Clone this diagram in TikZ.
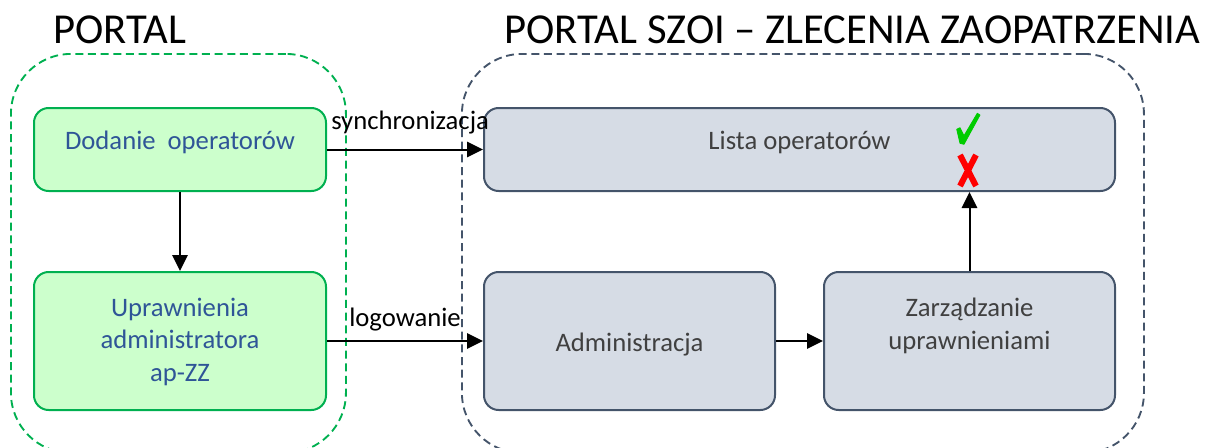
\documentclass[tikz,border=0pt]{standalone}
\usepackage{fontspec}
\setmainfont{Carlito}
\usetikzlibrary{arrows.meta}
\definecolor{grn}{HTML}{00B050}
\definecolor{grnfill}{HTML}{CCFFCC}
\definecolor{slate}{HTML}{44546A}
\definecolor{slatefill}{HTML}{D6DCE5}
\definecolor{bluetxt}{HTML}{2F5597}
\definecolor{graytxt}{HTML}{404040}
\definecolor{okgreen}{HTML}{00CC00}
\newcommand{\boxtext}[2]{\smash{\raisebox{#1}{\begin{tabular}{@{}c@{}}#2\end{tabular}}}}
\tikzset{
  x=0.75pt,y=-0.75pt,
  basebox/.style={rounded corners=11pt,line width=1.5pt,inner sep=0pt,anchor=center,font=\fontsize{20pt}{24.7pt}\selectfont},
  greenbox/.style={basebox,draw=grn,fill=grnfill,text=bluetxt},
  greybox/.style={basebox,draw=slate,fill=slatefill,text=graytxt},
  group/.style={rounded corners=45pt,line width=1.4pt,dash pattern=on 6pt off 3.5pt,inner sep=0pt},
  conn/.style={line width=1.5pt,-{Triangle[length=12pt,width=11.5pt]},shorten >=0pt},
  title/.style={font=\fontsize{32pt}{36pt}\selectfont,inner sep=0pt,anchor=base west},
  edgelabel/.style={font=\fontsize{20pt}{24pt}\selectfont,inner sep=0pt,anchor=base west},
}
\begin{document}
\begin{tikzpicture}
\useasboundingbox (0,0) rectangle (1208,447);
\clip (0,0) rectangle (1208,447);
% groups
\node[group,draw=grn,minimum width=251.25pt,minimum height=299.25pt,anchor=north west] (portalgroup) at (10,53) {};
\node[group,draw=slate,minimum width=511.5pt,minimum height=299.25pt,anchor=north west] (szoigroup) at (461,53) {};
% titles
\node[title] (t1) at (53,43) {PORTAL};
\node[title] (t2) at (504,43) {PORTAL SZOI – ZLECENIA ZAOPATRZENIA};
% boxes
\node[greenbox,minimum width=219pt,minimum height=62.25pt] (dodanie) at (180,149.5) {\boxtext{0pt}{Dodanie\ \ operatorów}};
\node[greenbox,minimum width=219pt,minimum height=103.5pt] (upr) at (180,341) {\boxtext{-6.2pt}{Uprawnienia\\administratora\\ap-ZZ}};
\node[greybox,minimum width=473.25pt,minimum height=62.25pt] (lista) at (799.5,149.5) {\boxtext{0pt}{Lista operatorów}};
\node[greybox,minimum width=218.25pt,minimum height=103.5pt] (admin) at (629.5,341) {\boxtext{-8pt}{Administracja}};
\node[greybox,minimum width=218.25pt,minimum height=103.5pt] (zarz) at (969.5,341) {\boxtext{6pt}{Zarządzanie\\uprawnieniami}};
% connectors
\draw[conn] (dodanie) -- (upr);
\draw[conn] (dodanie) -- (lista);
\draw[conn] (upr) -- (admin);
\draw[conn] (admin) -- (zarz);
\draw[conn] (zarz.north) -- (zarz.north |- lista.south);
% labels
\node[edgelabel] (l1) at (331,129) {synchronizacja};
\node[edgelabel] (l2) at (349,326) {logowanie};
% marks
\fill[okgreen,draw=okgreen,line width=0.6pt,line join=round] (956.7,129.3) -- (960,127.7) -- (964,135.7) -- (977.3,113.3) -- (980,115) -- (964,144.3) -- (960,143.3) -- cycle;
\draw[red,line width=4.5pt] (960,155) -- (976,186) (976,155) -- (960,186);
\end{tikzpicture}
\end{document}
